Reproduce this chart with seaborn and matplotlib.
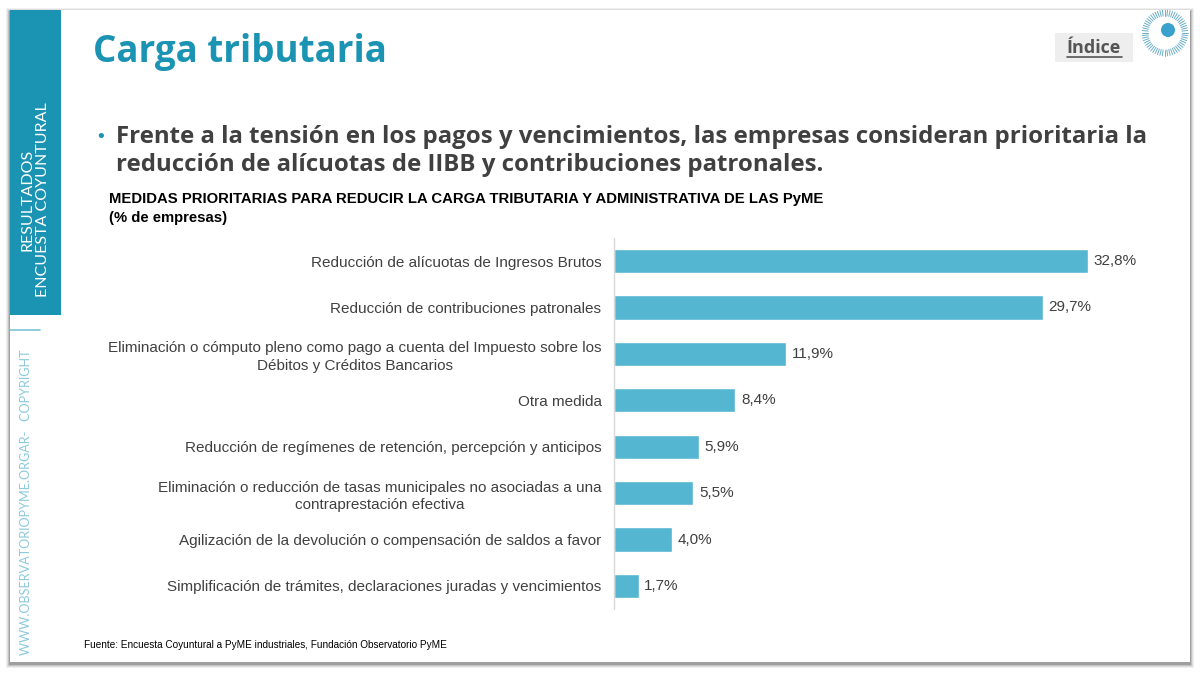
import numpy as np
import pandas as pd
import matplotlib
matplotlib.use("Agg")
import matplotlib.pyplot as plt
from matplotlib.patches import Rectangle, Circle
import seaborn as sns

# data
medidas = [
    "Reducción de alícuotas de Ingresos Brutos",
    "Reducción de contribuciones patronales",
    "Eliminación o cómputo pleno como pago a cuenta del Impuesto sobre los\nDébitos y Créditos Bancarios",
    "Otra medida",
    "Reducción de regímenes de retención, percepción y anticipos",
    "Eliminación o reducción de tasas municipales no asociadas a una\ncontraprestación efectiva",
    "Agilización de la devolución o compensación de saldos a favor",
    "Simplificación de trámites, declaraciones juradas y vencimientos",
]
porcentajes = [32.8, 29.7, 11.9, 8.4, 5.9, 5.5, 4.0, 1.7]

df = pd.DataFrame({"medida": medidas, "pct": porcentajes})

W, H = 1200, 673
TEAL = "#1b93b3"
BAR = "#55b6d1"
GRIS = "#404040"

sns.set_style("white")
plt.rcParams["font.family"] = ["Liberation Sans", "DejaVu Sans"]

fig = plt.figure(figsize=(12, 6.73), dpi=100)

# background layer in pixel coords
bg = fig.add_axes([0, 0, 1, 1])
bg.set_xlim(0, W)
bg.set_ylim(H, 0)
bg.axis("off")

# slide shadow + slide
for i, a in enumerate([0.06, 0.08, 0.12, 0.18]):
    d = 4 - i
    bg.add_patch(Rectangle((10 - d, 10 - d + 2), 1180 + 2 * d, 652 + 2 * d,
                           facecolor="#000000", alpha=a, lw=0))
bg.add_patch(Rectangle((10, 10), 1180, 652, facecolor="white", lw=0))

# left sidebar
bg.add_patch(Rectangle((10, 10), 51, 305, facecolor=TEAL, lw=0))
bg.plot([10, 40], [330, 330], color="#7cc3d6", lw=1.2)
fig.text(35.5 / W, 1 - 297 / H, "RESULTADOS\nENCUESTA COYUNTURAL", rotation=90,
         ha="center", va="bottom", color="white", fontsize=11.5,
         family=["Lato", "DejaVu Sans"], linespacing=1.15)
fig.text(26 / W, 1 - 655 / H, "WWW.OBSERVATORIOPYME.ORGAR-   COPYRIGHT", rotation=90,
         ha="center", va="bottom", color="#8ccadb", fontsize=9.1,
         family=["Lato", "DejaVu Sans"])

# title and bullet
fig.text(93 / W, 1 - 52 / H, "Carga tributaria", color=TEAL, fontsize=26.5,
         fontweight="bold", family=["Open Sans", "DejaVu Sans"], va="center")
fig.text(97 / W, 1 - 137 / H, "•", color=TEAL, fontsize=14, va="center")
fig.text(116 / W, 1 - 151 / H,
         "Frente a la tensión en los pagos y vencimientos, las empresas consideran prioritaria la\n"
         "reducción de alícuotas de IIBB y contribuciones patronales.",
         color=GRIS, fontsize=17.3, fontweight="bold", family=["Open Sans", "DejaVu Sans"],
         va="center", linespacing=1.25)

# Indice button
bg.add_patch(Rectangle((1055, 33), 78, 29, facecolor="#eeeeee", lw=0))
fig.text(1094 / W, 1 - 48 / H, "Índice", color="#555555", fontsize=13, fontweight="bold",
         family=["Open Sans", "DejaVu Sans"], ha="center", va="center")
bg.plot([1067, 1122], [57, 57], color="#555555", lw=1.2)

# logo
cx, cy = 1165, 33
for ang in np.linspace(0, 2 * np.pi, 56, endpoint=False):
    bg.plot([cx + 17 * np.cos(ang), cx + 23 * np.cos(ang)],
            [cy + 17 * np.sin(ang), cy + 23 * np.sin(ang)], color="#6aaec7", lw=0.7)
bg.add_patch(Circle((1168, 30), 7, facecolor="#3aa0cc", lw=0))

# chart title
fig.text(109 / W, 1 - 199 / H,
         "MEDIDAS PRIORITARIAS PARA REDUCIR LA CARGA TRIBUTARIA Y ADMINISTRATIVA DE LAS PyME",
         fontsize=10.75, fontweight="bold", color="black", va="center")
fig.text(109 / W, 1 - 218 / H, "(% de empresas)", fontsize=10.75, fontweight="bold",
         color="black", va="center")

# bar chart
ax = fig.add_axes([614 / W, 1 - 609.2 / H, 505.75 / W, 371.4 / H])
sns.barplot(data=df, x="pct", y="medida", color=BAR, width=0.52, saturation=1, ax=ax)
ax.set_xlim(0, 35)
ax.set_xlabel("")
ax.set_ylabel("")
ax.set_xticks([])
for s in ["top", "right", "bottom"]:
    ax.spines[s].set_visible(False)
ax.spines["left"].set_color("#d9d9d9")
ax.spines["left"].set_linewidth(1)
ax.tick_params(axis="y", length=0, pad=9, labelsize=11, labelcolor=GRIS)
for lab in ax.get_yticklabels():
    lab.set_multialignment("center")
    lab.set_linespacing(1.3)
ax.bar_label(ax.containers[0], labels=[f"{v:.1f}%".replace(".", ",") for v in porcentajes],
             padding=4, fontsize=11, color=GRIS)

# source
fig.text(84 / W, 1 - 645 / H,
         "Fuente: Encuesta Coyuntural a PyME industriales, Fundación Observatorio PyME",
         fontsize=7.2, color="black", va="center")

fig.savefig("out.png", dpi=100)
